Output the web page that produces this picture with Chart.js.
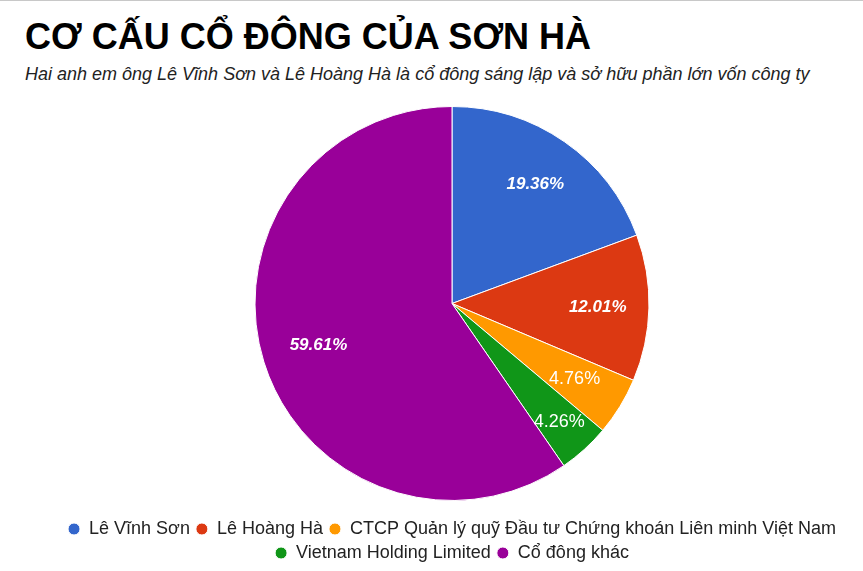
<!DOCTYPE html>
<html>
<head>
<meta charset="utf-8">
<script src="https://cdn.jsdelivr.net/npm/chart.js@4.4.1/dist/chart.umd.min.js"></script>
<style>
  html, body { margin: 0; padding: 0; background: #fff; }
  body { width: 863px; height: 571px; position: relative; overflow: hidden; border-top: 1px solid #c8c8c8; box-sizing: border-box; }
  .title { position: absolute; left: 25px; top: 18px; font: bold 36px/36px "Liberation Sans", Arial, sans-serif; color: #000; white-space: nowrap; }
  .subtitle { position: absolute; left: 25px; top: 64px; font: italic 18px/18px "Liberation Sans", Arial, sans-serif; color: #222; white-space: nowrap; }
  .chart-box { position: absolute; left: 0; top: 92px; width: 863px; height: 479px; }
</style>
</head>
<body>
<div class="title">CƠ CẤU CỔ ĐÔNG CỦA SƠN HÀ</div>
<div class="subtitle">Hai anh em ông Lê Vĩnh Sơn và Lê Hoàng Hà là cổ đông sáng lập và sở hữu phần lớn vốn công ty</div>
<div class="chart-box"><canvas id="shareholderChart"></canvas></div>
<script>
// Dữ liệu cơ cấu cổ đông (%)
const shareholders = ['Lê Vĩnh Sơn', 'Lê Hoàng Hà', 'CTCP Quản lý quỹ Đầu tư Chứng khoán Liên minh Việt Nam', 'Vietnam Holding Limited', 'Cổ đông khác'];
const shares = [19.36, 12.01, 4.76, 4.26, 59.61];
const sliceColors = ['#3366cc', '#dc3912', '#ff9900', '#109618', '#990099'];

// Nhãn phần trăm vẽ trong từng lát
const sliceLabels = {
  id: 'sliceLabels',
  afterDatasetsDraw(chart) {
    const c = chart.ctx;
    const meta = chart.getDatasetMeta(0);
    const dist = [0.74, 0.74, 0.73, 0.81, 0.71];
    meta.data.forEach(function(arc, i) {
      const p = arc.getProps(['x', 'y', 'startAngle', 'endAngle', 'outerRadius'], true);
      const mid = (p.startAngle + p.endAngle) / 2;
      const r = p.outerRadius * dist[i];
      const small = shares[i] < 10;
      c.save();
      c.fillStyle = '#ffffff';
      c.font = small ? '18px "Liberation Sans", Arial, sans-serif' : 'italic bold 17px "Liberation Sans", Arial, sans-serif';
      c.textAlign = 'center';
      c.textBaseline = 'middle';
      c.fillText(shares[i].toFixed(2) + '%', p.x + Math.cos(mid) * r, p.y + Math.sin(mid) * r);
      c.restore();
    });
  }
};

const ctx = document.getElementById('shareholderChart');

new Chart(ctx, {
  type: 'pie',
  data: {
    labels: shareholders,
    datasets: [{
      data: shares,
      backgroundColor: sliceColors,
      borderColor: '#ffffff',
      borderWidth: 1,
      radius: 197
    }]
  },
  options: {
    responsive: true,
    maintainAspectRatio: false,
    animation: false,
    layout: {
      padding: { top: 0, left: 41, right: 0, bottom: 0 }
    },
    plugins: {
      legend: {
        position: 'bottom',
        labels: {
          usePointStyle: true,
          pointStyle: 'circle',
          boxWidth: 12,
          boxHeight: 8.5,
          padding: 6,
          color: '#222',
          font: { family: '"Liberation Sans", Arial, sans-serif', size: 18 }
        }
      },
      tooltip: { enabled: false }
    }
  },
  plugins: [sliceLabels]
});
</script>
</body>
</html>
